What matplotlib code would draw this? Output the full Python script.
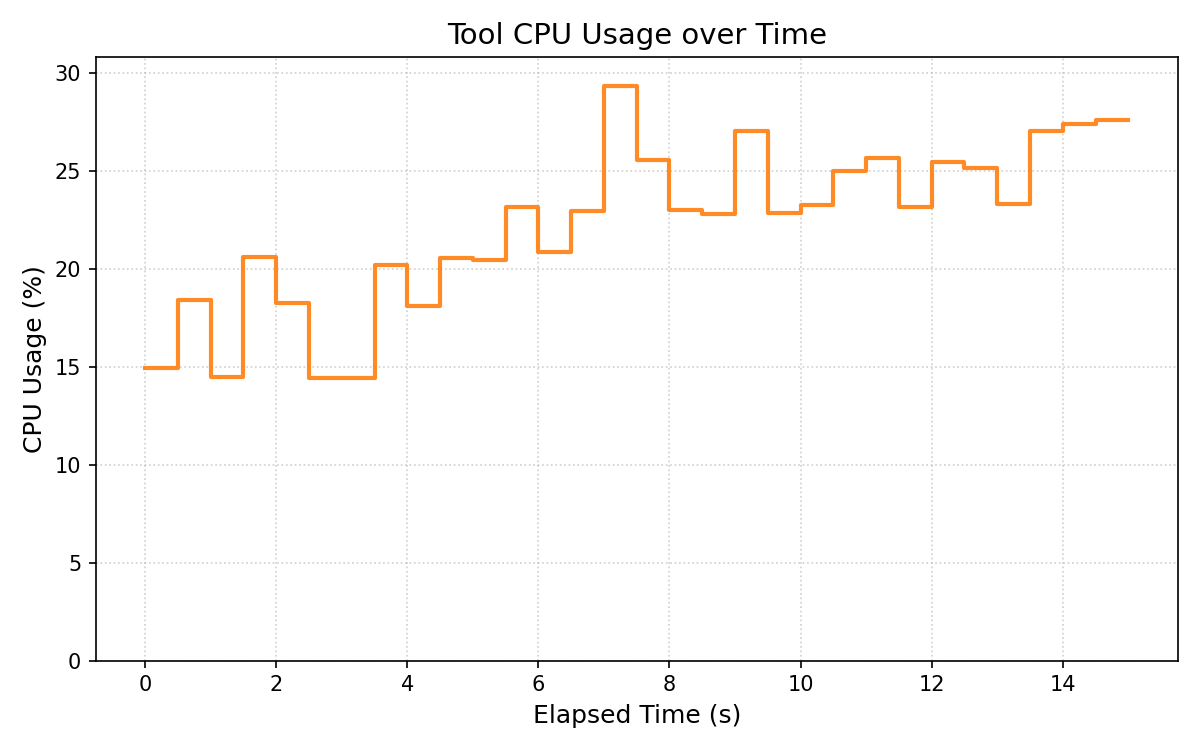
import matplotlib
matplotlib.use("Agg")
import matplotlib.pyplot as plt
import numpy as np

# elapsed time samples (s) and tool CPU usage (%)
elapsed = [0.0, 0.5, 1.0, 1.5, 2.0, 2.5, 3.0, 3.5, 4.0, 4.5,
           5.0, 5.5, 6.0, 6.5, 7.0, 7.5, 8.0, 8.5, 9.0, 9.5,
           10.0, 10.5, 11.0, 11.5, 12.0, 12.5, 13.0, 13.5, 14.0, 14.5, 15.0]
cpu_usage = [14.94, 18.40, 14.50, 20.63, 18.28, 14.42, 14.42, 20.18, 18.08, 20.53,
             20.47, 23.16, 20.84, 22.95, 29.35, 25.56, 23.00, 22.80, 27.05, 22.85,
             23.26, 25.00, 25.67, 23.15, 25.46, 25.15, 23.30, 27.05, 27.42, 27.60, 27.60]

fig, ax = plt.subplots(figsize=(8, 5), dpi=150)

ax.step(elapsed, cpu_usage, where="post", color="tab:orange", alpha=0.9, linewidth=2)

ax.set_title("Tool CPU Usage over Time", fontsize=14)
ax.set_xlabel("Elapsed Time (s)", fontsize=12)
ax.set_ylabel("CPU Usage (%)", fontsize=12)
ax.set_ylim(0, max(cpu_usage) * 1.05)
ax.grid(True, linestyle=":", alpha=0.6)

plt.tight_layout()
plt.savefig("out.png")
